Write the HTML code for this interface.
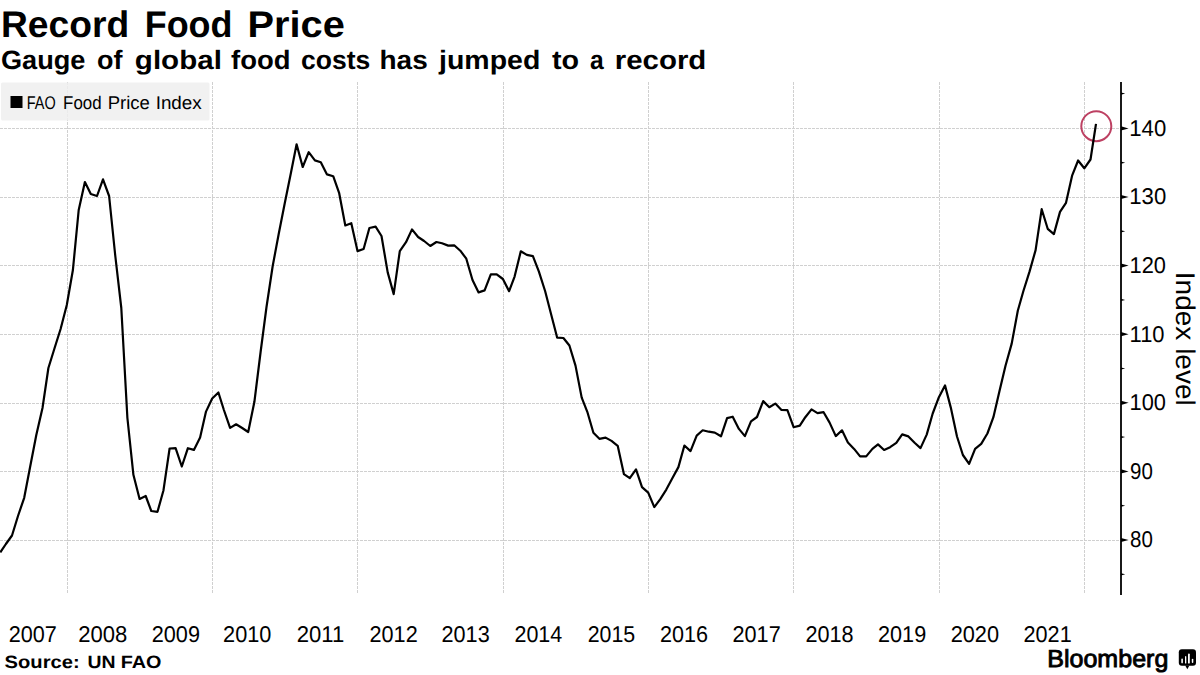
<!DOCTYPE html>
<html><head><meta charset="utf-8"><style>
html,body{margin:0;padding:0;background:#fff;}
body{width:1200px;height:675px;overflow:hidden;position:relative;}
svg{position:absolute;left:0;top:0;}
text{font-family:'Liberation Sans',sans-serif;fill:#000;text-rendering:geometricPrecision;}
</style></head><body>
<svg width="1200" height="675" viewBox="0 0 1200 675">
<rect x="0" y="0" width="1200" height="675" fill="#fff"/>
<text x="0.99" y="36.7" style="font-weight:bold;font-size:37px" textLength="128.21" lengthAdjust="spacingAndGlyphs">Record</text><text x="144.66" y="36.7" style="font-weight:bold;font-size:37px" textLength="87.88" lengthAdjust="spacingAndGlyphs">Food</text><text x="247.55" y="36.7" style="font-weight:bold;font-size:37px" textLength="97.2" lengthAdjust="spacingAndGlyphs">Price</text>
<text x="0.98" y="68.6" style="font-weight:bold;font-size:26.5px" textLength="84.51" lengthAdjust="spacingAndGlyphs">Gauge</text><text x="96.98" y="68.6" style="font-weight:bold;font-size:26.5px" textLength="25.43" lengthAdjust="spacingAndGlyphs">of</text><text x="134.89" y="68.6" style="font-weight:bold;font-size:26.5px" textLength="86.98" lengthAdjust="spacingAndGlyphs">global</text><text x="231.0" y="68.6" style="font-weight:bold;font-size:26.5px" textLength="59.44" lengthAdjust="spacingAndGlyphs">food</text><text x="301.0" y="68.6" style="font-weight:bold;font-size:26.5px" textLength="69.23" lengthAdjust="spacingAndGlyphs">costs</text><text x="379.49" y="68.6" style="font-weight:bold;font-size:26.5px" textLength="48.22" lengthAdjust="spacingAndGlyphs">has</text><text x="439.07" y="68.6" style="font-weight:bold;font-size:26.5px" textLength="101.25" lengthAdjust="spacingAndGlyphs">jumped</text><text x="552.0" y="68.6" style="font-weight:bold;font-size:26.5px" textLength="27.1" lengthAdjust="spacingAndGlyphs">to</text><text x="590.07" y="68.6" style="font-weight:bold;font-size:26.5px" textLength="13.7" lengthAdjust="spacingAndGlyphs">a</text><text x="614.78" y="68.6" style="font-weight:bold;font-size:26.5px" textLength="91.57" lengthAdjust="spacingAndGlyphs">record</text>
<g stroke="#d0d0d0" stroke-width="1" stroke-dasharray="3 1" fill="none"><line x1="0" y1="540.5" x2="1120" y2="540.5"/><line x1="0" y1="471.5" x2="1120" y2="471.5"/><line x1="0" y1="403.5" x2="1120" y2="403.5"/><line x1="0" y1="334.5" x2="1120" y2="334.5"/><line x1="0" y1="265.5" x2="1120" y2="265.5"/><line x1="0" y1="197.5" x2="1120" y2="197.5"/><line x1="0" y1="128.5" x2="1120" y2="128.5"/><line x1="67.5" y1="82" x2="67.5" y2="593"/><line x1="212.5" y1="82" x2="212.5" y2="593"/><line x1="357.5" y1="82" x2="357.5" y2="593"/><line x1="503.5" y1="82" x2="503.5" y2="593"/><line x1="648.5" y1="82" x2="648.5" y2="593"/><line x1="793.5" y1="82" x2="793.5" y2="593"/><line x1="939.5" y1="82" x2="939.5" y2="593"/><line x1="1084.5" y1="82" x2="1084.5" y2="593"/></g>
<rect x="1" y="82.6" width="208.5" height="38" rx="1.5" fill="#efefef" fill-opacity="0.85"/>
<rect x="10.5" y="96" width="12" height="12" fill="#000"/>
<text x="26.81" y="108.7" style="font-size:18.4px" textLength="28.91" lengthAdjust="spacingAndGlyphs">FAO</text><text x="63.08" y="108.7" style="font-size:18.4px" textLength="38.46" lengthAdjust="spacingAndGlyphs">Food</text><text x="107.69" y="108.7" style="font-size:18.4px" textLength="42.22" lengthAdjust="spacingAndGlyphs">Price</text><text x="155.65" y="108.7" style="font-size:18.4px" textLength="46.15" lengthAdjust="spacingAndGlyphs">Index</text>
<circle cx="1096.3" cy="126.2" r="15" fill="none" stroke="#bd4062" stroke-width="2"/>
<polyline points="0.3,552.4 5.9,544.0 12.0,535.5 18.0,516.0 24.2,497.8 30.1,467.0 36.3,435.0 42.5,408.0 48.4,368.0 54.6,348.0 60.6,329.0 66.8,305.0 72.9,270.0 78.7,210.0 84.9,182.0 90.8,194.0 97.0,196.0 103.0,179.4 109.1,196.0 115.3,256.0 121.3,308.0 127.4,418.0 133.4,474.8 139.6,498.9 145.7,496.0 151.3,511.0 157.5,511.8 163.5,490.2 169.6,448.5 175.6,448.2 181.8,466.5 187.9,448.2 193.9,449.9 200.1,437.6 206.0,411.6 212.2,398.5 218.4,392.5 223.9,410.0 230.1,427.9 236.1,424.3 242.2,428.0 248.2,432.0 254.4,401.8 260.6,352.0 266.5,307.0 272.7,266.0 278.7,234.0 284.8,203.0 291.0,172.5 296.6,144.3 302.7,167.0 308.7,152.2 314.9,160.4 320.8,162.3 327.0,174.4 333.2,176.2 339.1,192.8 345.3,225.5 351.3,223.2 357.5,251.1 363.6,249.0 369.4,228.0 375.6,226.6 381.5,236.0 387.7,272.4 393.7,294.1 399.8,251.1 406.0,242.2 412.0,229.4 418.1,237.0 424.1,241.0 430.3,246.0 436.4,242.0 442.0,243.3 448.2,245.6 454.2,245.3 460.3,250.7 466.3,258.7 472.5,280.0 478.6,292.4 484.6,290.4 490.8,274.4 496.7,274.4 502.9,279.0 509.1,291.2 514.6,276.6 520.8,251.3 526.8,254.9 532.9,256.2 538.9,271.7 545.1,291.0 551.3,315.0 557.2,337.7 563.4,338.0 569.4,345.5 575.5,365.6 581.7,397.6 587.3,411.8 593.4,432.8 599.4,438.8 605.6,437.6 611.5,440.9 617.7,445.8 623.9,474.1 629.8,478.1 636.0,469.3 642.0,487.1 648.2,492.6 654.3,507.1 660.1,499.3 666.3,489.6 672.2,478.5 678.4,467.1 684.4,445.5 690.5,451.1 696.7,435.6 702.7,430.3 708.8,431.7 714.8,432.6 721.0,436.3 727.1,418.1 732.7,416.7 738.9,428.9 744.9,436.1 751.0,421.4 757.0,417.0 763.2,401.1 769.3,407.2 775.3,403.6 781.5,410.0 787.4,410.2 793.6,427.2 799.8,425.6 805.3,417.2 811.5,409.4 817.5,413.1 823.6,412.2 829.6,422.6 835.8,436.1 842.0,430.3 847.9,442.5 854.1,448.9 860.1,456.4 866.2,456.4 872.4,448.9 878.0,444.4 884.1,450.0 890.1,447.2 896.3,442.8 902.2,434.4 908.4,436.4 914.6,442.8 920.5,448.1 926.7,434.6 932.7,413.5 938.9,397.2 945.0,385.4 950.8,407.6 957.0,436.5 962.9,455.0 969.1,463.9 975.1,448.8 981.2,443.9 987.4,433.5 993.4,417.2 999.5,391.0 1005.5,365.7 1011.7,343.6 1017.8,310.8 1023.4,291.0 1029.6,271.4 1035.6,250.1 1041.7,209.2 1047.7,228.8 1053.9,234.1 1060.0,211.9 1066.0,202.8 1072.2,175.3 1078.1,160.5 1084.3,168.3 1090.5,159.5 1096.0,123.8" fill="none" stroke="#000" stroke-width="2.2" stroke-linejoin="round" stroke-linecap="butt"/>
<line x1="1121" y1="82" x2="1121" y2="595" stroke="#000" stroke-width="1.8"/>
<g fill="#000"><path d="M1121 573.2 L1125.2 574.3 L1121 575.4 Z"/><path d="M1121 537.9 L1128.6 540.0 L1121 542.1 Z"/><path d="M1121 504.6 L1125.2 505.7 L1121 506.8 Z"/><path d="M1121 469.3 L1128.6 471.4 L1121 473.5 Z"/><path d="M1121 436.0 L1125.2 437.1 L1121 438.2 Z"/><path d="M1121 400.7 L1128.6 402.8 L1121 404.9 Z"/><path d="M1121 367.4 L1125.2 368.5 L1121 369.6 Z"/><path d="M1121 332.1 L1128.6 334.2 L1121 336.3 Z"/><path d="M1121 298.8 L1125.2 299.9 L1121 301.0 Z"/><path d="M1121 263.5 L1128.6 265.6 L1121 267.7 Z"/><path d="M1121 230.2 L1125.2 231.3 L1121 232.4 Z"/><path d="M1121 194.9 L1128.6 197.0 L1121 199.1 Z"/><path d="M1121 161.6 L1125.2 162.7 L1121 163.8 Z"/><path d="M1121 126.3 L1128.6 128.4 L1121 130.5 Z"/><path d="M1121 92.5 L1125.2 93.6 L1121 94.7 Z"/></g>
<text x="1129.26" y="135.8" style="font-size:22.8px" textLength="36.96" lengthAdjust="spacingAndGlyphs">140</text><text x="1129.26" y="204.4" style="font-size:22.8px" textLength="36.96" lengthAdjust="spacingAndGlyphs">130</text><text x="1129.59" y="273.0" style="font-size:22.8px" textLength="36.42" lengthAdjust="spacingAndGlyphs">120</text><text x="1129.58" y="341.6" style="font-size:22.8px" textLength="34.95" lengthAdjust="spacingAndGlyphs">110</text><text x="1129.59" y="410.2" style="font-size:22.8px" textLength="36.42" lengthAdjust="spacingAndGlyphs">100</text><text x="1130.1" y="478.8" style="font-size:22.8px" textLength="22.82" lengthAdjust="spacingAndGlyphs">90</text><text x="1130.1" y="547.4" style="font-size:22.8px" textLength="22.82" lengthAdjust="spacingAndGlyphs">80</text>
<text transform="translate(1176,271.8) rotate(90)" x="0" y="0" style="font-size:27px" textLength="134" lengthAdjust="spacingAndGlyphs">Index level</text>
<text x="8.65" y="641.6" style="font-size:22.8px" textLength="48.13" lengthAdjust="spacingAndGlyphs">2007</text><text x="78.33" y="641.6" style="font-size:22.8px" textLength="49.06" lengthAdjust="spacingAndGlyphs">2008</text><text x="151.75" y="641.6" style="font-size:22.8px" textLength="48.23" lengthAdjust="spacingAndGlyphs">2009</text><text x="223.05" y="641.6" style="font-size:22.8px" textLength="48.34" lengthAdjust="spacingAndGlyphs">2010</text><text x="296.73" y="641.6" style="font-size:22.8px" textLength="47.57" lengthAdjust="spacingAndGlyphs">2011</text><text x="369.55" y="641.6" style="font-size:22.8px" textLength="48.13" lengthAdjust="spacingAndGlyphs">2012</text><text x="441.55" y="641.6" style="font-size:22.8px" textLength="48.13" lengthAdjust="spacingAndGlyphs">2013</text><text x="514.46" y="641.6" style="font-size:22.8px" textLength="47.82" lengthAdjust="spacingAndGlyphs">2014</text><text x="587.66" y="641.6" style="font-size:22.8px" textLength="47.51" lengthAdjust="spacingAndGlyphs">2015</text><text x="660.05" y="641.6" style="font-size:22.8px" textLength="48.03" lengthAdjust="spacingAndGlyphs">2016</text><text x="732.55" y="641.6" style="font-size:22.8px" textLength="48.13" lengthAdjust="spacingAndGlyphs">2017</text><text x="805.45" y="641.6" style="font-size:22.8px" textLength="48.13" lengthAdjust="spacingAndGlyphs">2018</text><text x="878.05" y="641.6" style="font-size:22.8px" textLength="48.13" lengthAdjust="spacingAndGlyphs">2019</text><text x="950.64" y="641.6" style="font-size:22.8px" textLength="48.44" lengthAdjust="spacingAndGlyphs">2020</text><text x="1023.55" y="641.6" style="font-size:22.8px" textLength="48.13" lengthAdjust="spacingAndGlyphs">2021</text>
<text x="4.57" y="667.7" style="font-weight:bold;font-size:17.8px" textLength="75.1" lengthAdjust="spacingAndGlyphs">Source:</text><text x="87.41" y="667.7" style="font-weight:bold;font-size:17.8px" textLength="28.04" lengthAdjust="spacingAndGlyphs">UN</text><text x="120.69" y="667.7" style="font-weight:bold;font-size:17.8px" textLength="40.74" lengthAdjust="spacingAndGlyphs">FAO</text>
<text x="1047.3" y="666.7" style="font-weight:normal;font-size:24.6px;stroke:#000;stroke-width:0.9" textLength="121" lengthAdjust="spacingAndGlyphs">Bloomberg</text>
<g>
<rect x="1178.8" y="649.2" width="17.2" height="16.5" rx="3" fill="#000"/>
<path d="M1185.2 665.5 L1187.3 669.2 L1189.4 665.5 Z" fill="#000"/>
<g fill="#fff"><rect x="1181.3" y="658.6" width="1.6" height="4.8" rx="0.8"/><rect x="1185" y="656" width="1.3" height="7.6" rx="0.65"/><rect x="1188" y="653.4" width="1.8" height="10.2" rx="0.9"/><rect x="1191.8" y="658.7" width="1.5" height="4.2" rx="0.75"/></g>
</g>
</svg>
</body></html>
